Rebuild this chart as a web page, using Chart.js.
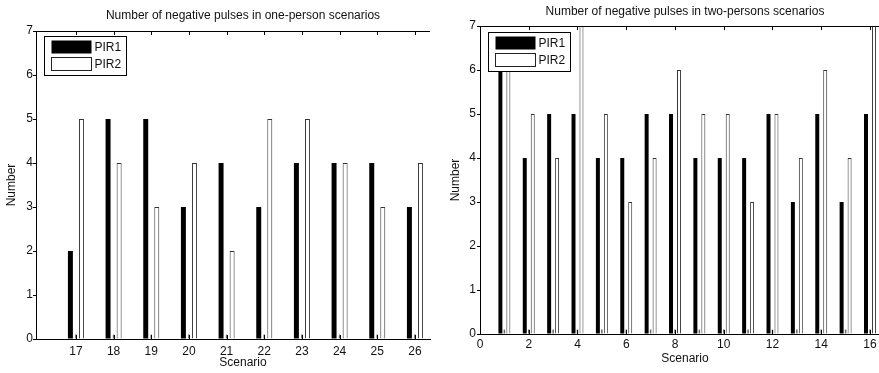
<!DOCTYPE html>
<html><head><meta charset="utf-8">
<script src="https://cdn.jsdelivr.net/npm/chart.js@4/dist/chart.umd.min.js"></script>
<style>
html,body{margin:0;padding:0;background:#fff;overflow:hidden}
#wrap{position:relative;width:879px;height:373px;background:#fff}
canvas{position:absolute;top:0}
</style></head><body>
<div id="wrap">
<canvas id="c1" width="440" height="373" style="left:0"></canvas>
<canvas id="c2" width="439" height="373" style="left:440px"></canvas>
</div>
<script>
const titleLeft = "Number of negative pulses in one-person scenarios";
const titleRight = "Number of negative pulses in two-persons scenarios";
const xAxisTitle = "Scenario";
const yAxisTitle = "Number";
const seriesNames = ["PIR1", "PIR2"];

const scenariosLeft = [17, 18, 19, 20, 21, 22, 23, 24, 25, 26];
const pir1Left = [2, 5, 5, 3, 4, 3, 4, 4, 4, 3];
const pir2Left = [5, 4, 3, 4, 2, 5, 5, 4, 3, 4];
const markLeft = [0.1, 0.1, 0.1, 0.1, 0.1, 0.1, 0.1, 0.1, 0.1, 0.1];
const xTicksLeft = [17, 18, 19, 20, 21, 22, 23, 24, 25, 26];

const scenariosRight = [1, 2, 3, 4, 5, 6, 7, 8, 9, 10, 11, 12, 13, 14, 15, 16];
const pir1Right = [6, 4, 5, 5, 4, 4, 5, 5, 4, 4, 4, 5, 3, 5, 3, 5];
const pir2Right = [6, 5, 4, 7, 5, 3, 4, 6, 5, 5, 3, 5, 4, 6, 4, 7];
const markRight = [0.1, 0.1, 0.1, 0.1, 0.1, 0.1, 0.1, 0.1, 0.1, 0.1, 0.1, 0.1, 0.1, 0.1, 0.1, 0.1];
const xTicksRight = [0, 2, 4, 6, 8, 10, 12, 14, 16];

const yTicks = [0, 1, 2, 3, 4, 5, 6, 7];

const FONT = '"Liberation Sans", Arial, Helvetica, sans-serif';
const TXT = '#111';

const framePlugin = {
  id: 'frame',
  afterDraw(chart) {
    const o = chart.options.plugins.frame;
    const {ctx, chartArea: a} = chart;
    const x = chart.scales.x;
    ctx.save();
    ctx.strokeStyle = '#000';
    ctx.lineWidth = 1;
    ctx.beginPath();
    ctx.moveTo(a.left, Math.round(a.top) + 0.5);
    ctx.lineTo(a.right, Math.round(a.top) + 0.5);
    x.ticks.forEach(t => {
      const px = Math.round(x.getPixelForValue(t.value)) + 0.5;
      ctx.moveTo(px, a.top);
      ctx.lineTo(px, a.top + 4);
      ctx.moveTo(px, a.bottom);
      ctx.lineTo(px, a.bottom - 4);
    });
    ctx.stroke();

    // legend box
    const lx = Math.round(a.left + o.legDx) + 0.5, ly = Math.round(a.top + o.legDy) + 0.5;
    ctx.fillStyle = '#fff';
    ctx.fillRect(lx, ly, 82, 39);
    ctx.strokeRect(lx, ly, 82, 39);
    ctx.fillStyle = '#000';
    ctx.fillRect(lx + 7, ly + 4, 40, 13);
    ctx.fillStyle = '#fff';
    ctx.fillRect(lx + 7, ly + 21, 40, 13);
    ctx.strokeStyle = '#222';
    ctx.strokeRect(lx + 7, ly + 21, 40, 13);
    ctx.fillStyle = TXT;
    ctx.font = '12px ' + FONT;
    ctx.textAlign = 'left';
    ctx.textBaseline = 'middle';
    const ds = chart.data.datasets;
    ctx.fillText(ds[0].label, lx + 50, ly + 11);
    ctx.fillText(ds[2].label, lx + 50, ly + 28);

    // titles
    ctx.textAlign = 'center';
    ctx.fillText(o.title, o.titleX, o.titleY);
    ctx.fillText(xAxisTitle, o.xtX, o.xtY);
    ctx.save();
    ctx.translate(o.ytX, (a.top + a.bottom) / 2);
    ctx.rotate(-Math.PI / 2);
    ctx.fillText(yAxisTitle, 0, 0);
    ctx.restore();
    ctx.restore();
  }
};

function buildConfig(p) {
  const pts = arr => p.scen.map((s, i) => ({x: s, y: arr[i]}));
  return {
    type: 'bar',
    data: {
      datasets: [
        {label: seriesNames[0], data: pts(p.pir1), backgroundColor: '#000', borderColor: '#000', borderWidth: 0,
         barPercentage: p.barPct, categoryPercentage: p.catPct},
        {label: '', data: pts(p.mark), backgroundColor: '#666', borderWidth: 0,
         barPercentage: p.markPct, categoryPercentage: p.catPct},
        {label: seriesNames[1], data: pts(p.pir2), backgroundColor: '#fff', borderColor: '#333', borderWidth: 1,
         barPercentage: p.barPct, categoryPercentage: p.catPct}
      ]
    },
    options: {
      responsive: false,
      animation: false,
      devicePixelRatio: 1,
      layout: {padding: {top: p.padTop, right: p.padRight, left: 0, bottom: 0}},
      plugins: {
        legend: {display: false},
        tooltip: {enabled: false},
        title: {display: false},
        frame: p.frame
      },
      scales: {
        x: {
          type: 'linear', min: p.xmin, max: p.xmax, offset: false,
          grid: {display: false, drawTicks: false, tickLength: 0},
          border: {display: true, color: '#000', width: 1},
          ticks: {padding: p.xPad, color: TXT, font: {family: FONT, size: 12}, maxRotation: 0, autoSkip: false},
          afterBuildTicks: s => { s.ticks = p.xTicks.map(v => ({value: v})); },
          afterFit: s => { s.height = p.xH; s.paddingLeft = 0; s.paddingRight = 0; }
        },
        y: {
          min: 0, max: 7,
          grid: {drawOnChartArea: false, drawTicks: true, tickLength: 3, color: '#000'},
          border: {display: true, color: '#000', width: 1},
          ticks: {padding: p.yPad, color: TXT, font: {family: FONT, size: 12}},
          afterBuildTicks: s => { s.ticks = yTicks.map(v => ({value: v})); },
          afterFit: s => { s.width = p.yW; s.paddingTop = 0; s.paddingBottom = 0; }
        }
      }
    },
    plugins: [framePlugin]
  };
}

new Chart(document.getElementById('c1'), buildConfig({
  scen: scenariosLeft, pir1: pir1Left, pir2: pir2Left, mark: markLeft, xTicks: xTicksLeft,
  xmin: 15.94, xmax: 26.4, padTop: 31, padRight: 10, xH: 34, yW: 36, xPad: 5, yPad: 0,
  catPct: 0.44, barPct: 0.9, markPct: 0.28,
  frame: {title: titleLeft, titleX: 243, titleY: 16, xtX: 243, xtY: 363, ytX: 12, legDx: 8, legDy: 5}
}));

new Chart(document.getElementById('c2'), buildConfig({
  scen: scenariosRight, pir1: pir1Right, pir2: pir2Right, mark: markRight, xTicks: xTicksRight,
  xmin: 0, xmax: 16.37, padTop: 26, padRight: 0, xH: 39, yW: 40, xPad: 3, yPad: 1,
  catPct: 0.49, barPct: 1.0, markPct: 0.37,
  frame: {title: titleRight, titleX: 245, titleY: 12, xtX: 245, xtY: 359, ytX: 16, legDx: 8, legDy: 6}
}));
</script>
</body></html>
